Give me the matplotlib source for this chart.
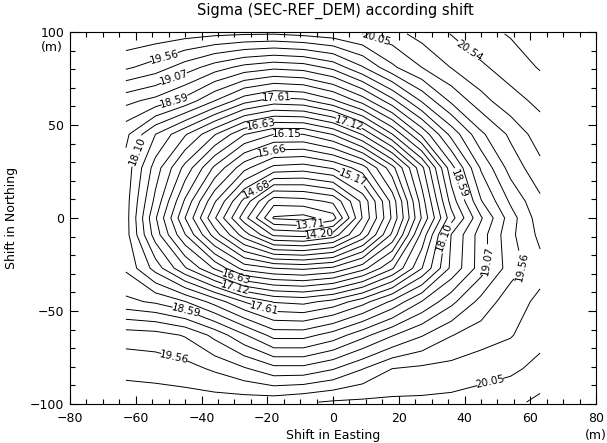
import numpy as np
import matplotlib
matplotlib.use('Agg')
import matplotlib.pyplot as plt
from matplotlib.ticker import MultipleLocator

plt.rcParams.update({
    'font.family': 'DejaVu Sans',
    'font.size': 9,
    'axes.linewidth': 0.8,
})

# Shift grid (m)
x_shift = [-63, -54, -45, -36, -27, -18, -9, 0, 9, 18, 27, 36, 45, 54, 63]
y_shift = [-99, -81, -63, -45, -27, -9, 0, 9, 27, 45, 63, 81, 99]

# Sigma values, one row per y_shift (bottom to top)
sigma = [
    [19.95, 19.93, 19.92, 19.92, 19.93, 19.95, 20.02, 20.08, 20.10, 20.10, 20.10, 20.12, 20.16, 20.22, 20.35],
    [19.72, 19.70, 19.65, 19.52, 19.35, 19.15, 19.15, 19.30, 19.55, 19.80, 19.85, 19.88, 19.95, 20.00, 20.12],
    [19.45, 19.42, 19.30, 19.00, 18.62, 18.25, 18.25, 18.45, 18.75, 19.05, 19.30, 19.55, 19.68, 19.78, 19.97],
    [18.65, 18.55, 18.35, 18.00, 17.60, 17.35, 17.30, 17.45, 17.75, 18.15, 18.60, 19.00, 19.40, 19.70, 19.85],
    [18.30, 17.75, 17.15, 16.60, 16.05, 15.90, 15.85, 15.95, 16.30, 16.85, 17.60, 18.40, 18.95, 19.45, 19.72],
    [18.20, 17.25, 16.40, 15.55, 14.80, 14.15, 14.10, 14.30, 15.00, 15.95, 17.20, 18.35, 18.95, 19.50, 19.86],
    [18.20, 17.15, 16.15, 15.20, 14.30, 13.44, 13.38, 13.60, 14.70, 15.70, 16.90, 18.00, 18.80, 19.45, 19.93],
    [18.20, 17.30, 16.35, 15.45, 14.60, 13.80, 13.85, 14.00, 14.75, 15.75, 17.00, 18.20, 19.05, 19.60, 20.00],
    [18.25, 17.50, 16.80, 16.10, 15.50, 15.10, 15.05, 15.20, 15.55, 16.30, 17.30, 18.50, 19.35, 19.90, 20.22],
    [18.40, 17.85, 17.40, 16.90, 16.40, 16.15, 16.15, 16.40, 16.90, 17.60, 18.40, 19.15, 19.75, 20.10, 20.42],
    [18.90, 18.75, 18.50, 18.10, 17.70, 17.50, 17.55, 17.80, 18.20, 18.75, 19.35, 19.85, 20.20, 20.45, 20.60],
    [19.60, 19.45, 19.20, 18.95, 18.75, 18.65, 18.70, 18.90, 19.30, 19.75, 20.05, 20.30, 20.50, 20.65, 20.80],
    [20.00, 19.95, 19.90, 19.85, 19.82, 19.81, 19.86, 19.93, 20.05, 20.20, 20.38, 20.55, 20.70, 20.80, 20.90],
]

# contour levels: labelled ones and the unlabelled ones in between
labeled_levels = [13.71, 14.20, 14.68, 15.17, 15.66, 16.15, 16.63, 17.12,
                  17.61, 18.10, 18.59, 19.07, 19.56, 20.05, 20.54]
other_levels = [13.47, 13.95, 14.44, 14.93, 15.42, 15.90, 16.39, 16.88,
                17.37, 17.85, 18.34, 18.83, 19.32, 19.80, 20.29, 20.78]

# where the labels sit (data coords)
label_spots = {
    13.71: [(-7, -3)],
    14.20: [(-4, -10)],
    14.68: [(-24, 19)],
    15.17: [(6, 22)],
    15.66: [(-19, 38)],
    16.15: [(-14, 45)],
    16.63: [(-22, 50), (-30, -35)],
    17.12: [(5, 52), (-30, -40)],
    17.61: [(-17, 65), (-21, -50)],
    18.10: [(-62, 38), (33.5, -10)],
    18.59: [(-48, 62), (38, 18), (-45, -51)],
    19.07: [(-48, 73), (49, -23)],
    19.56: [(-51, 85), (58, -26), (-48, -72)],
    20.05: [(13, 96), (48, -90)],
    20.54: [(42, 92)],
}

X, Y = np.meshgrid(x_shift, y_shift)
Z = np.array(sigma)

fig = plt.figure(figsize=(6.07, 4.43), dpi=100)
ax = fig.add_axes([70 / 607, 1 - 404 / 443, 526 / 607, 372 / 443])

ax.contour(X, Y, Z, levels=other_levels, colors='black', linewidths=0.7)
# one contour set per labelled level so each label lands on its own line
for lev in labeled_levels:
    cs = ax.contour(X, Y, Z, levels=[lev], colors='black', linewidths=0.7)
    cs.clabel(manual=label_spots[lev], fmt='%.2f', fontsize=7.5,
              inline=True, inline_spacing=2)

ax.set_xlim(-80, 80)
ax.set_ylim(-100, 100)
ax.xaxis.set_major_locator(MultipleLocator(20))
ax.xaxis.set_minor_locator(MultipleLocator(5))
ax.yaxis.set_major_locator(MultipleLocator(50))
ax.yaxis.set_minor_locator(MultipleLocator(10))
ax.tick_params(which='both', direction='in', top=True, right=True, width=0.8)
ax.tick_params(which='major', length=6)
ax.tick_params(which='minor', length=3.5)
ax.tick_params(axis='x', pad=6)
ax.tick_params(axis='y', pad=4)

fig.text(335 / 607, 1 - 11 / 443, 'Sigma (SEC-REF_DEM) according shift',
         ha='center', va='center', fontsize=10.5)
fig.text(333 / 607, 1 - 435 / 443, 'Shift in Easting', ha='center', va='center')
fig.text(12 / 607, 1 - 218 / 443, 'Shift in Northing', ha='center', va='center',
         rotation=90)
fig.text(596 / 607, 1 - 436 / 443, '(m)', ha='center', va='center')
fig.text(52 / 607, 1 - 47 / 443, '(m)', ha='center', va='center')

fig.savefig('out.png', dpi=100)
